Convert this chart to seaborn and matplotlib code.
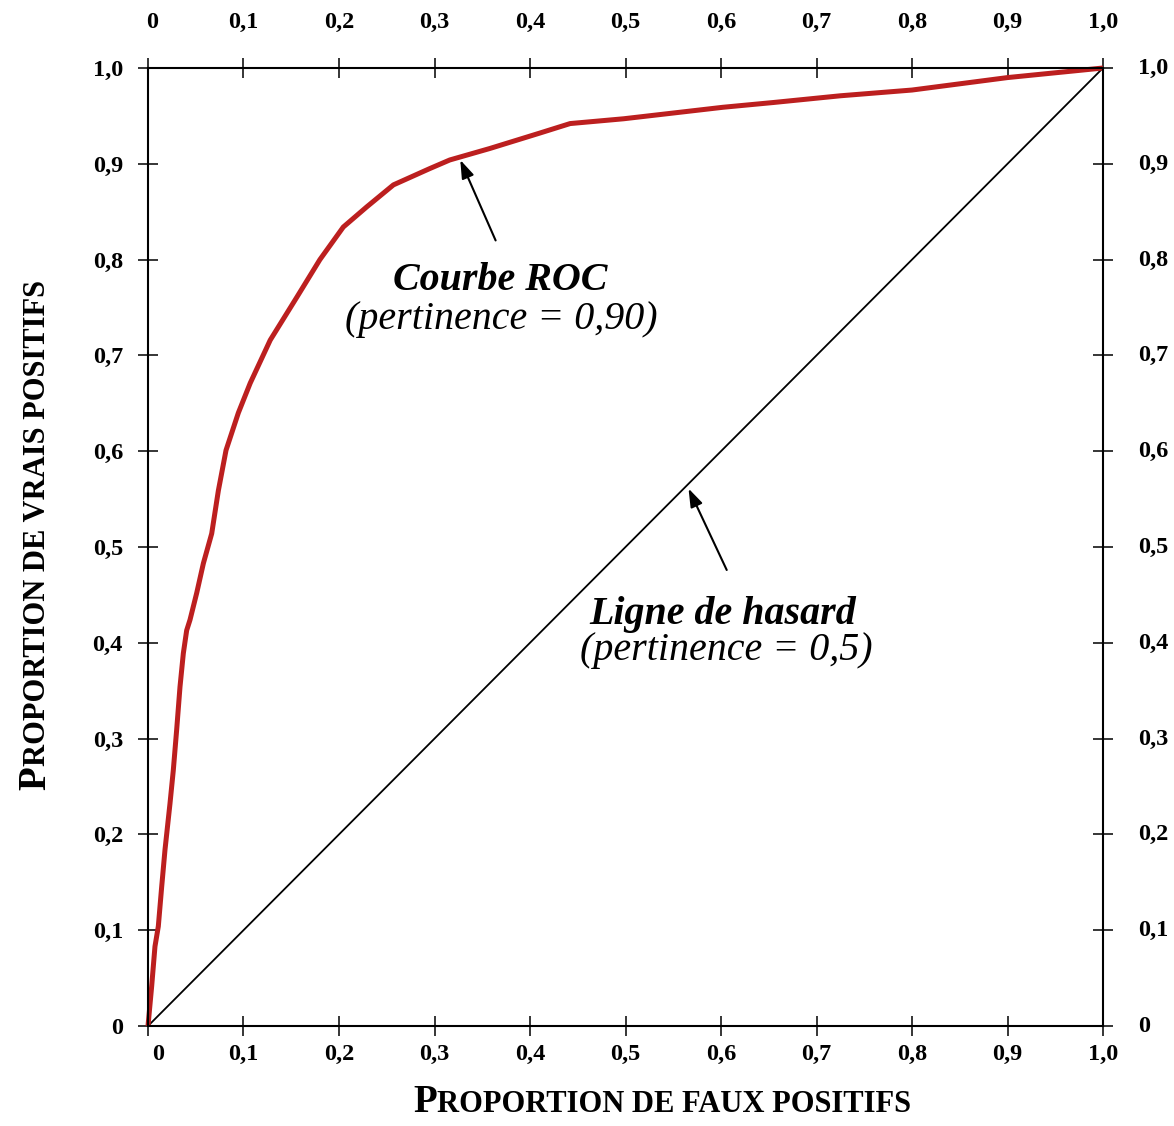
import matplotlib
matplotlib.use("Agg")
import matplotlib.pyplot as plt
import matplotlib.transforms as mtrans
from matplotlib.font_manager import FontProperties
import seaborn as sns
import pandas as pd

# ---- data ----
fpr = [0, 0.0038, 0.0073, 0.0108, 0.0143, 0.0178, 0.023, 0.0265, 0.030, 0.0335,
       0.037, 0.0405, 0.044, 0.051, 0.058, 0.0667, 0.0737, 0.0817, 0.0946, 0.107,
       0.128, 0.156, 0.180, 0.2045, 0.229, 0.257, 0.295, 0.316, 0.358, 0.410,
       0.442, 0.498, 0.550, 0.602, 0.655, 0.725, 0.800, 0.900, 1.0]
tpr = [0, 0.041, 0.083, 0.104, 0.145, 0.184, 0.232, 0.267, 0.309, 0.354,
       0.389, 0.413, 0.424, 0.452, 0.483, 0.514, 0.559, 0.601, 0.640, 0.671,
       0.716, 0.761, 0.800, 0.834, 0.855, 0.878, 0.895, 0.904, 0.916, 0.932,
       0.942, 0.947, 0.953, 0.959, 0.964, 0.971, 0.977, 0.990, 1.0]
chance_x = [0.0, 1.0]
chance_y = [0.0, 1.0]
tick_values = [0, 0.1, 0.2, 0.3, 0.4, 0.5, 0.6, 0.7, 0.8, 0.9, 1.0]
tick_labels = ["0", "0,1", "0,2", "0,3", "0,4", "0,5", "0,6", "0,7", "0,8", "0,9", "1,0"]

sns.set_style("ticks")
plt.rcParams['font.family'] = ['Liberation Serif', 'DejaVu Serif']
plt.rcParams['text.color'] = 'black'
plt.rcParams['xtick.color'] = 'black'
plt.rcParams['ytick.color'] = 'black'

W, H = 1174, 1126
fig = plt.figure(figsize=(W / 100, H / 100), dpi=100)
ax = fig.add_axes([148 / W, 1 - 1026 / H, (1103 - 148) / W, (1026 - 68) / H])

roc = pd.DataFrame({"fpr": fpr, "tpr": tpr})
chance = pd.DataFrame({"x": chance_x, "y": chance_y})

sns.lineplot(data=chance, x="x", y="y", ax=ax, color="black", linewidth=1.3,
             sort=False, clip_on=False)
sns.lineplot(data=roc, x="fpr", y="tpr", ax=ax, color="#BC1F1F", linewidth=3.6,
             sort=False, clip_on=False, solid_capstyle="butt")

ax.set_xlim(0, 1)
ax.set_ylim(0, 1)
ax.set_xlabel("")
ax.set_ylabel("")

for s in ax.spines.values():
    s.set_visible(True)
    s.set_linewidth(1.5)
    s.set_color("black")

tick_fp = FontProperties(family='Liberation Serif', weight='bold', size=17.5)
ax.set_xticks(tick_values)
ax.set_yticks(tick_values)
ax.set_xticklabels(tick_labels)
ax.set_yticklabels(tick_labels)
ax.tick_params(axis='both', which='both', direction='inout', length=14, width=1.1,
               colors='black', top=True, right=True, labeltop=True, labelright=True)
ax.tick_params(axis='x', which='both', pad=6)
ax.tick_params(axis='y', which='both', pad=11)

for t in ax.xaxis.get_major_ticks() + ax.yaxis.get_major_ticks():
    t.label1.set_fontproperties(tick_fp)
    t.label2.set_fontproperties(tick_fp)
    t.label1.set_color('black')
    t.label2.set_color('black')

# top & right labels sit further out than bottom & left
for t in ax.xaxis.get_major_ticks():
    t.label2.set_transform(t.label2.get_transform() +
                           mtrans.ScaledTranslation(0, 12 / 72, fig.dpi_scale_trans))
for t in ax.yaxis.get_major_ticks():
    t.label2.set_transform(t.label2.get_transform() +
                           mtrans.ScaledTranslation(7 / 72, 1.5 / 72, fig.dpi_scale_trans))
# the "0" labels on x are nudged right in the reference
xt = ax.xaxis.get_major_ticks()[0]
xt.label1.set_transform(xt.label1.get_transform() +
                        mtrans.ScaledTranslation(7 / 72, 0, fig.dpi_scale_trans))
xt.label2.set_transform(xt.label2.get_transform() +
                        mtrans.ScaledTranslation(3 / 72, 0, fig.dpi_scale_trans))

# ---- annotations ----
ann_font_bi = dict(family='Liberation Serif', weight='bold', style='italic', size=28.8,
                   color='black')
ann_font_i = dict(family='Liberation Serif', style='italic', size=28.8, color='black')
arrowprops = dict(arrowstyle='-|>,head_length=1.1,head_width=0.38', color='black',
                  lw=1.5, shrinkA=0, shrinkB=0)

ax.annotate("", xy=(0.327, 0.904), xytext=(0.364, 0.820), arrowprops=arrowprops)
ax.text(0.369, 0.768, "Courbe ROC", ha='center', va='baseline', **ann_font_bi)
ax.text(0.370, 0.728, "(pertinence = 0,90)", ha='center', va='baseline', **ann_font_i)

ax.annotate("", xy=(0.566, 0.561), xytext=(0.606, 0.476), arrowprops=arrowprops)
ax.text(0.602, 0.420, "Ligne de hasard", ha='center', va='baseline', **ann_font_bi)
ax.text(0.606, 0.382, "(pertinence = 0,5)", ha='center', va='baseline', **ann_font_i)

# ---- small-caps axis labels ----
big = dict(family='Liberation Serif', weight='bold', size=28, color='black')
small = dict(family='Liberation Serif', weight='bold', size=22, color='black')

fig.canvas.draw()
renderer = fig.canvas.get_renderer()

# x label
px, py = 413 / W, 1 - 1112 / H
tP = fig.text(px, py, "P", ha='left', va='baseline', **big)
bb = tP.get_window_extent(renderer)
x1 = fig.transFigure.inverted().transform((bb.x1, bb.y0))[0]
fig.text(x1, py, "ROPORTION DE FAUX POSITIFS", ha='left', va='baseline', **small)

# y label
qx, qy = 45 / W, 1 - 790 / H
tP2 = fig.text(qx, qy, "P", ha='left', va='baseline', rotation=90,
               rotation_mode='anchor', **big)
bb2 = tP2.get_window_extent(renderer)
y1 = fig.transFigure.inverted().transform((bb2.x0, bb2.y1))[1]
fig.text(qx, y1, "ROPORTION DE VRAIS POSITIFS", ha='left', va='baseline', rotation=90,
         rotation_mode='anchor', **small)

fig.savefig("out.png", dpi=100)
